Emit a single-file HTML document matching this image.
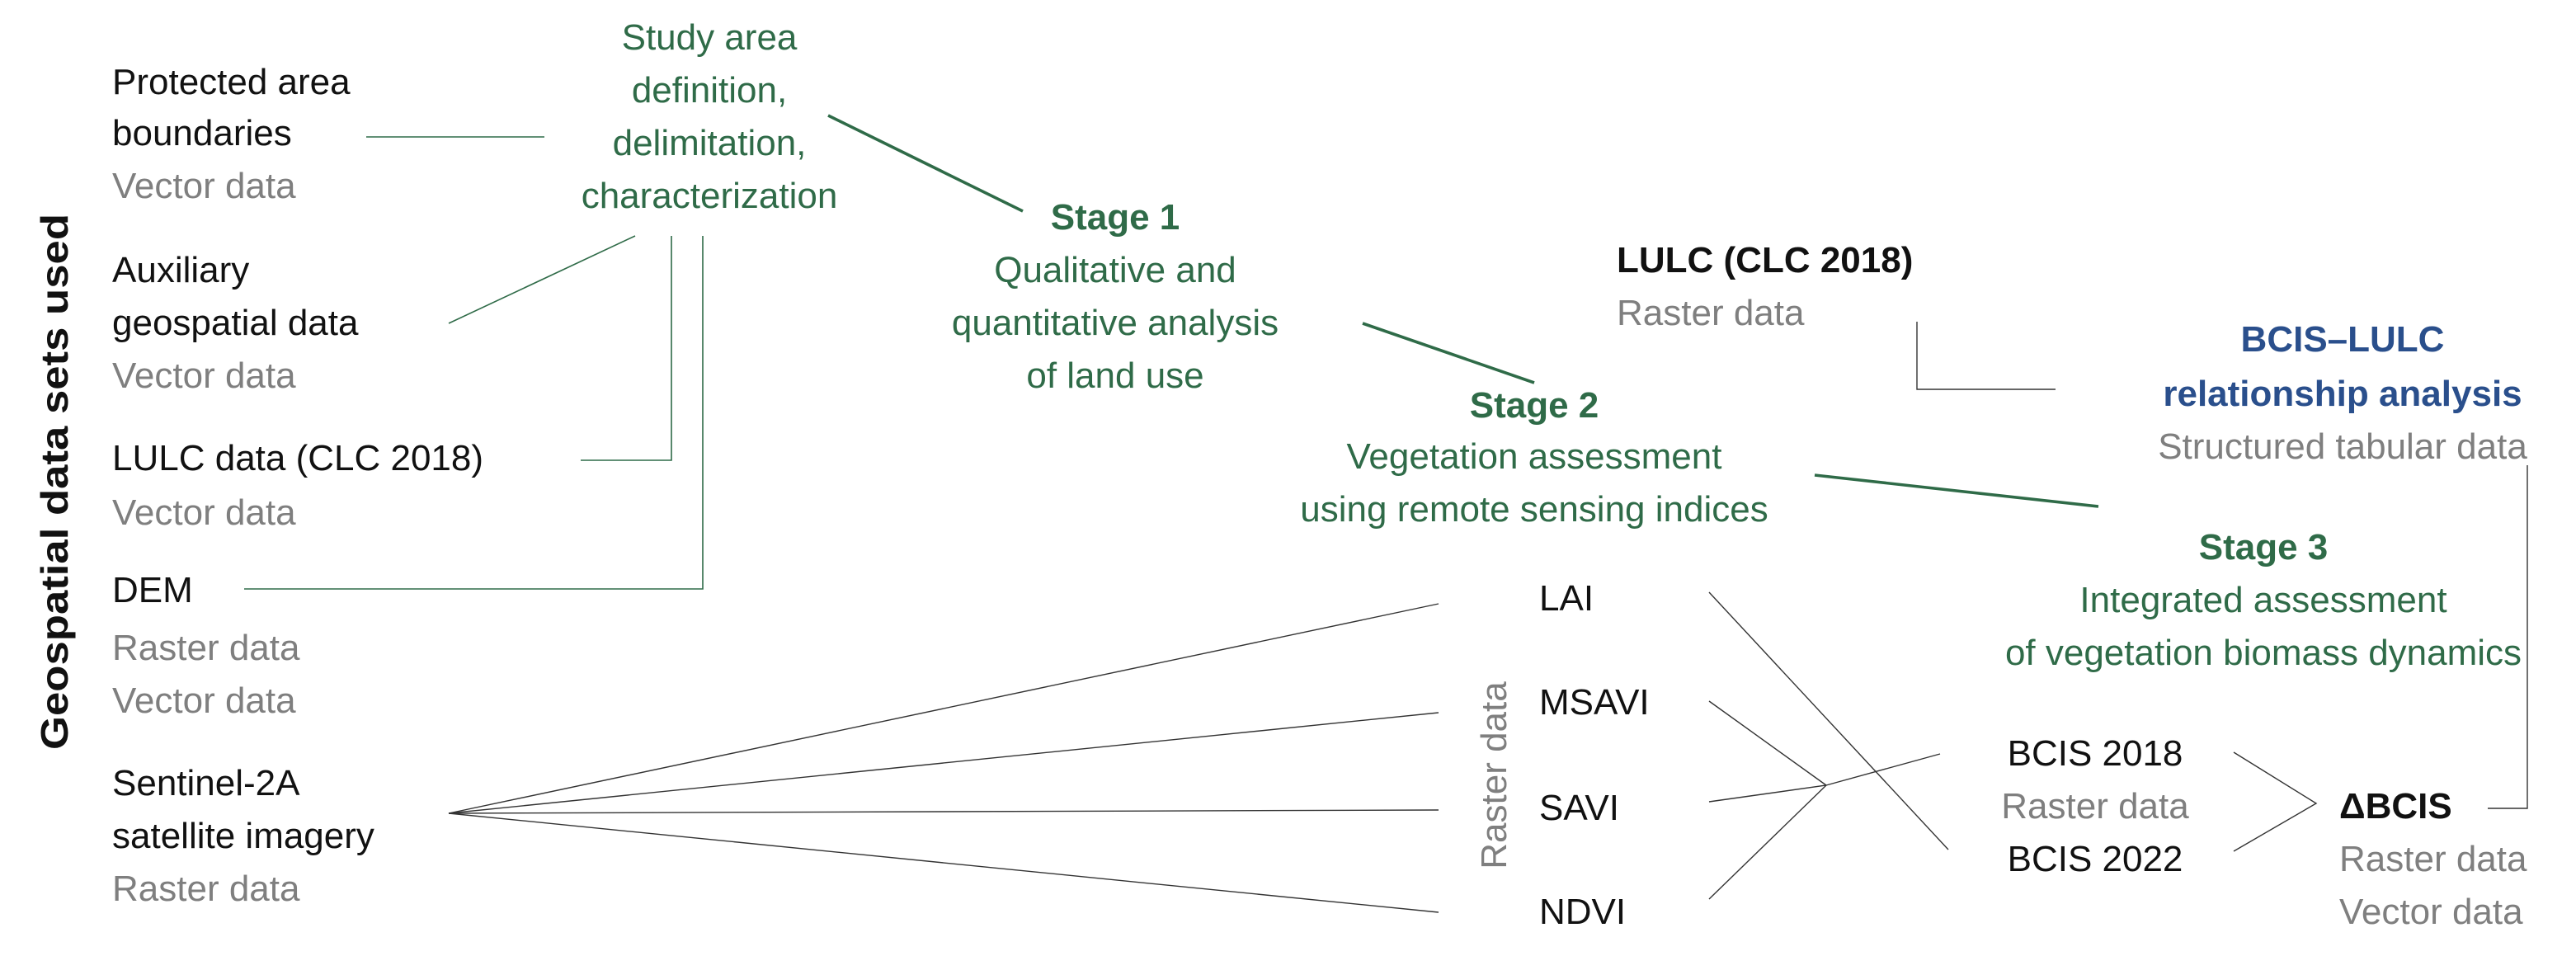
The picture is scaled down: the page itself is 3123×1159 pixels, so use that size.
<!DOCTYPE html>
<html><head><meta charset="utf-8"><style>
html,body{margin:0;padding:0;background:#fff;}
svg{display:block;}
text{font-family:"Liberation Sans",Arial,sans-serif;font-size:22px;}
.k{fill:#111;}
.g{fill:#7f7f7f;}
.gr{fill:#2f6b48;}
.b{font-weight:bold;}
.bl{fill:#2a4f8c;font-weight:bold;}
</style></head><body>
<svg width="3123" height="1159" viewBox="0 0 1561.5 579.5" xmlns="http://www.w3.org/2000/svg">
<rect width="1561.5" height="579.5" fill="#fff"/>
<!-- vertical title -->
<text class="k b" transform="translate(41,292) rotate(-90)" text-anchor="middle" style="font-size:23px" textLength="325" lengthAdjust="spacingAndGlyphs">Geospatial data sets used</text>

<!-- left items -->
<g class="k">
<text x="68" y="57">Protected area</text>
<text x="68" y="88">boundaries</text>
<text x="68" y="171">Auxiliary</text>
<text x="68" y="203">geospatial data</text>
<text x="68" y="285">LULC data (CLC 2018)</text>
<text x="68" y="365">DEM</text>
<text x="68" y="482">Sentinel-2A</text>
<text x="68" y="514">satellite imagery</text>
</g>
<g class="g">
<text x="68" y="120">Vector data</text>
<text x="68" y="235">Vector data</text>
<text x="68" y="318">Vector data</text>
<text x="68" y="400">Raster data</text>
<text x="68" y="432">Vector data</text>
<text x="68" y="546">Raster data</text>
</g>

<!-- green texts -->
<g class="gr" text-anchor="middle">
<text x="430" y="30">Study area</text>
<text x="430" y="62">definition,</text>
<text x="430" y="94">delimitation,</text>
<text x="430" y="126">characterization</text>
<text x="676" y="139" class="gr b">Stage 1</text>
<text x="676" y="171">Qualitative and</text>
<text x="676" y="203">quantitative analysis</text>
<text x="676" y="235">of land use</text>
<text x="930" y="253" class="gr b">Stage 2</text>
<text x="930" y="284">Vegetation assessment</text>
<text x="930" y="316">using remote sensing indices</text>
<text x="1372" y="339" class="gr b">Stage 3</text>
<text x="1372" y="371">Integrated assessment</text>
<text x="1372" y="403">of vegetation biomass dynamics</text>
</g>

<!-- right top -->
<text x="980" y="165" class="k b">LULC (CLC 2018)</text>
<text x="980" y="197" class="g">Raster data</text>
<g text-anchor="middle">
<text x="1420" y="213" class="bl">BCIS–LULC</text>
<text x="1420" y="246" class="bl">relationship analysis</text>
<text x="1420" y="278" class="g">Structured tabular data</text>
</g>

<!-- indices -->
<g class="k">
<text x="933" y="370">LAI</text>
<text x="933" y="433">MSAVI</text>
<text x="933" y="497">SAVI</text>
<text x="933" y="560">NDVI</text>
</g>
<text class="g" transform="translate(913,470) rotate(-90)" text-anchor="middle">Raster data</text>

<g text-anchor="middle">
<text x="1270" y="464" class="k">BCIS 2018</text>
<text x="1270" y="496" class="g">Raster data</text>
<text x="1270" y="528" class="k">BCIS 2022</text>
</g>
<text x="1418" y="496" class="k b">ΔBCIS</text>
<text x="1418" y="528" class="g">Raster data</text>
<text x="1418" y="560" class="g">Vector data</text>

<!-- green connectors -->
<g stroke="#2f6b48" fill="none" stroke-width="0.8">
<line x1="222" y1="83" x2="330" y2="83"/>
<line x1="272" y1="196" x2="385" y2="143"/>
<polyline points="352,279 407,279 407,143"/>
<polyline points="148,357 426,357 426,143"/>
</g>
<g stroke="#2f6b48" fill="none" stroke-width="1.8">
<line x1="502" y1="70" x2="620" y2="128"/>
<line x1="826" y1="196" x2="930" y2="232"/>
<line x1="1100" y1="288" x2="1272" y2="307"/>
</g>

<!-- black connectors -->
<g stroke="#333" fill="none" stroke-width="0.7">
<line x1="272" y1="493" x2="872" y2="366"/>
<line x1="272" y1="493" x2="872" y2="432"/>
<line x1="272" y1="493" x2="872" y2="491"/>
<line x1="272" y1="493" x2="872" y2="553"/>
<line x1="1036" y1="359" x2="1181" y2="515"/>
<line x1="1036" y1="425" x2="1107" y2="476"/>
<line x1="1036" y1="545" x2="1107" y2="476"/>
<polyline points="1036,486 1107,476 1176,457"/>
<polyline points="1354,456 1404,487 1354,516"/>
<polyline points="1508,490 1532,490 1532,282"/>
<polyline points="1162,195 1162,236 1246,236"/>
</g>
</svg>
</body></html>
